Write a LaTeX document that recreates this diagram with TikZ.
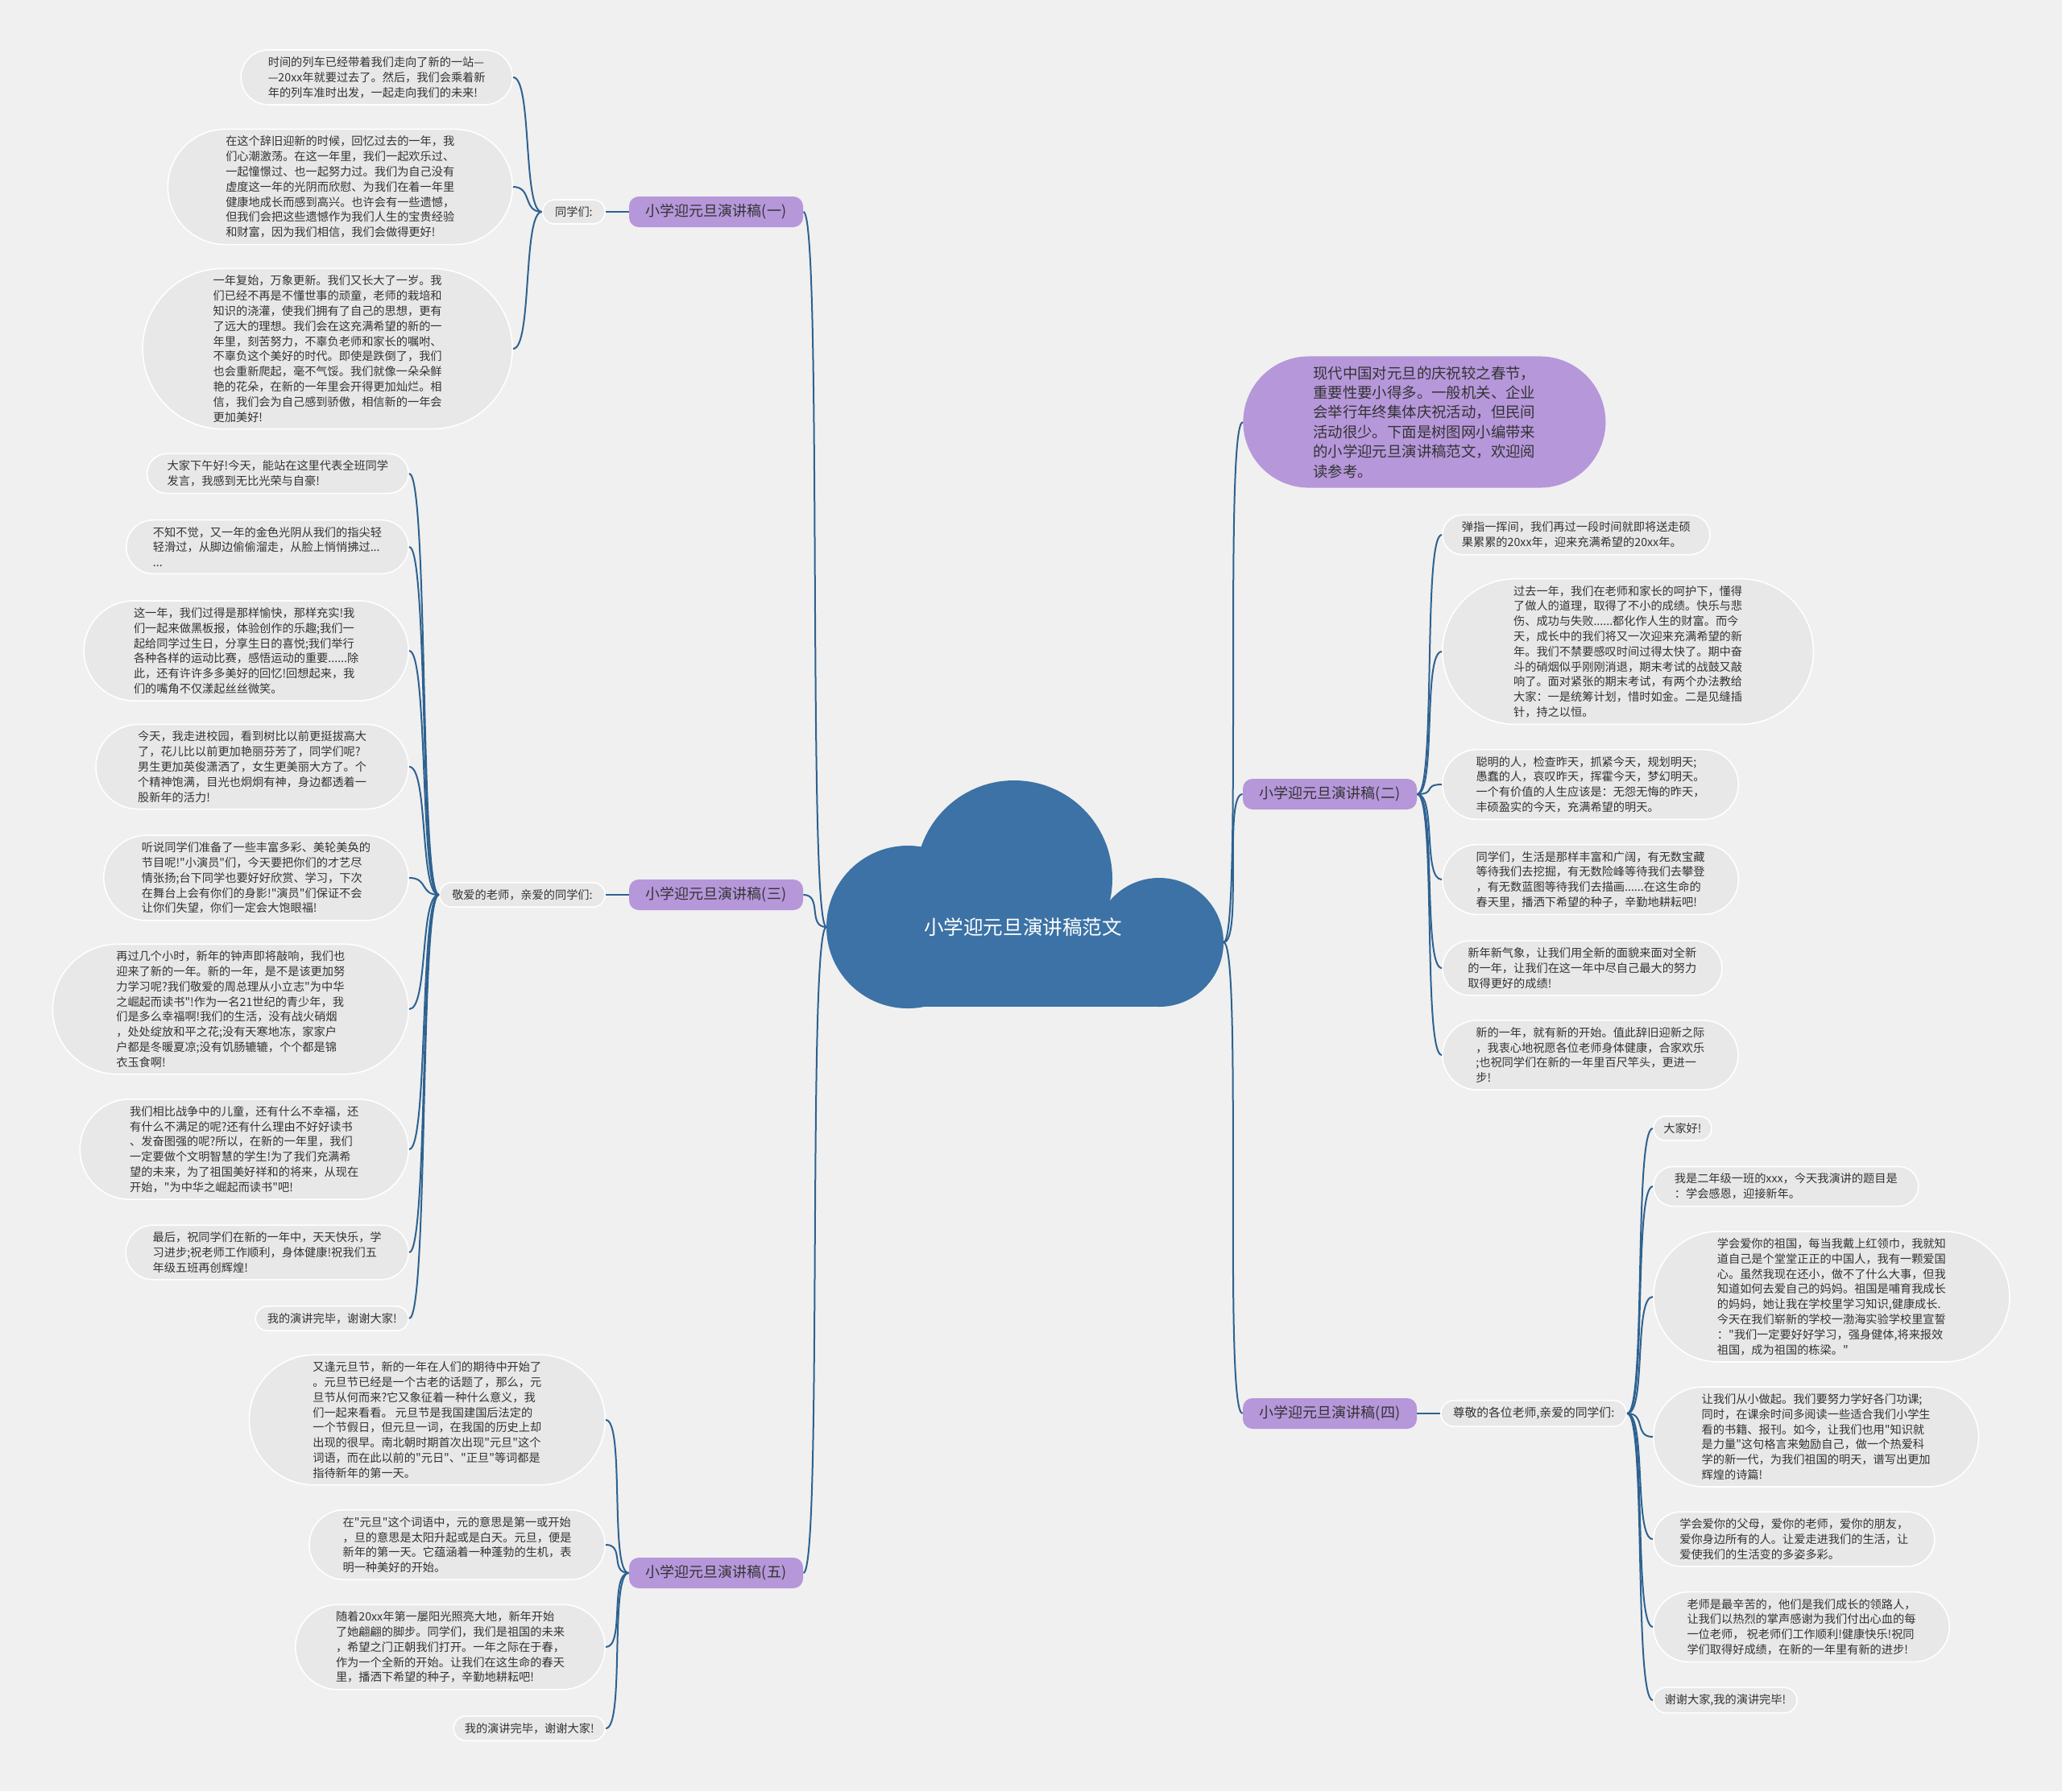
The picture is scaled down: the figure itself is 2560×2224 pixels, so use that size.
\documentclass[tikz,border=0pt]{standalone}
\usepackage{fontspec}
\setmainfont{Noto Sans CJK SC}[Ligatures=TeXOff]
\usetikzlibrary{shapes.misc}

\definecolor{bgcol}{HTML}{F0F0F0}
\definecolor{leafgray}{HTML}{E8E8E8}
\definecolor{txtgray}{HTML}{333333}
\definecolor{topicpurple}{HTML}{B697DA}
\definecolor{cloudblue}{HTML}{3C72A5}
\definecolor{linkblue}{HTML}{2E6290}

\tikzset{
  leafbox/.style={rounded rectangle, fill=leafgray, draw=white, line width=0.8pt,
    text=txtgray, font=\fontsize{7.1}{9.4}\selectfont, align=left,
    inner xsep=#1, inner ysep=4.2pt},
  leafbox/.default=6.5pt,
  mainbox/.style={rectangle, rounded corners=6pt, fill=topicpurple, text=txtgray,
    font=\fontsize{9}{11}\selectfont, minimum width=108pt, minimum height=19pt, inner sep=2pt},
  introbox/.style={rounded rectangle, fill=topicpurple, text=txtgray,
    font=\fontsize{9.2}{12.2}\selectfont, align=left, inner xsep=24pt, inner ysep=6pt},
  conn/.style={draw=linkblue, line width=1pt}
}

\begin{document}
\begin{tikzpicture}[x=0.5pt,y=-0.5pt]
\useasboundingbox (0,0) rectangle (2560,2224);
\fill[bgcol] (0,0) rectangle (2560,2224);

% cloud
\fill[cloudblue] (1259,1091) circle[radius=61pt];
\fill[cloudblue] (1127,1151) circle[radius=50.5pt];
\fill[cloudblue] (1439,1170) circle[radius=40pt];
\fill[cloudblue] (1127,1151) rectangle (1439,1250);
\node[font=\fontsize{12.3}{14}\selectfont, text=white] (root) at (1270,1151) {小学迎元旦演讲稿范文};
\coordinate (rootL) at (1026,1151);
\coordinate (rootR) at (1519,1170);

% main topics
\node[mainbox] (t1) at (889,263) {小学迎元旦演讲稿(一)};
\node[mainbox] (t3) at (889,1111) {小学迎元旦演讲稿(三)};
\node[mainbox] (t5) at (889,1953) {小学迎元旦演讲稿(五)};
\node[mainbox] (t2) at (1651,986) {小学迎元旦演讲稿(二)};
\node[mainbox] (t4) at (1651,1755) {小学迎元旦演讲稿(四)};
\node[introbox, anchor=west] (intro) at (1543,524) {现代中国对元旦的庆祝较之春节，\\
重要性要小得多。一般机关、企业\\
会举行年终集体庆祝活动，但民间\\
活动很少。下面是树图网小编带来\\
的小学迎元旦演讲稿范文，欢迎阅\\
读参考。};

\node[leafbox=7pt, anchor=east] (lab1) at (752,263) {同学们:};
\node[leafbox=7pt, anchor=east] (lab3) at (752,1111) {敬爱的老师，亲爱的同学们:};
\node[leafbox=6.5pt, anchor=west, font=\fontsize{7.4}{9.4}\selectfont] (lab4) at (1788,1755) {尊敬的各位老师,亲爱的同学们:};

% (一)
\node[leafbox=11pt, anchor=east] (a1) at (637,96) {时间的列车已经带着我们走向了新的一站—\\
—20xx年就要过去了。然后，我们会乘着新\\
年的列车准时出发，一起走向我们的未来!};
\node[leafbox=17pt, anchor=east] (a2) at (637,232) {在这个辞旧迎新的时候，回忆过去的一年，我\\
们心潮激荡。在这一年里，我们一起欢乐过、\\
一起憧憬过、也一起努力过。我们为自己没有\\
虚度这一年的光阴而欣慰、为我们在着一年里\\
健康地成长而感到高兴。也许会有一些遗憾，\\
但我们会把这些遗憾作为我们人生的宝贵经验\\
和财富，因为我们相信，我们会做得更好!};
\node[leafbox=14pt, anchor=east] (a3) at (637,433) {一年复始，万象更新。我们又长大了一岁。我\\
们已经不再是不懂世事的顽童，老师的栽培和\\
知识的浇灌，使我们拥有了自己的思想，更有\\
了远大的理想。我们会在这充满希望的新的一\\
年里，刻苦努力，不辜负老师和家长的嘱咐、\\
不辜负这个美好的时代。即使是跌倒了，我们\\
也会重新爬起，毫不气馁。我们就像一朵朵鲜\\
艳的花朵，在新的一年里会开得更加灿烂。相\\
信，我们会为自己感到骄傲，相信新的一年会\\
更加美好!};

% (三)
\node[leafbox=9.5pt, anchor=east] (c1) at (508,588) {大家下午好!今天，能站在这里代表全班同学\\
发言，我感到无比光荣与自豪!};
\node[leafbox=11pt, anchor=east] (c2) at (508,679) {不知不觉，又一年的金色光阴从我们的指尖轻\\
轻滑过，从脚边偷偷溜走，从脸上悄悄拂过...\\
...};
\node[leafbox=15.5pt, anchor=east] (c3) at (508,808) {这一年，我们过得是那样愉快，那样充实!我\\
们一起来做黑板报，体验创作的乐趣;我们一\\
起给同学过生日，分享生日的喜悦;我们举行\\
各种各样的运动比赛，感悟运动的重要......除\\
此，还有许许多多美好的回忆!回想起来，我\\
们的嘴角不仅漾起丝丝微笑。};
\node[leafbox=14pt, anchor=east] (c4) at (508,952) {今天，我走进校园，看到树比以前更挺拔高大\\
了，花儿比以前更加艳丽芬芳了，同学们呢?\\
男生更加英俊潇洒了，女生更美丽大方了。个\\
个精神饱满，目光也炯炯有神，身边都透着一\\
股新年的活力!};
\node[leafbox=11.5pt, anchor=east] (c5) at (508,1090) {听说同学们准备了一些丰富多彩、美轮美奂的\\
节目呢!"小演员"们，今天要把你们的才艺尽\\
情张扬;台下同学也要好好欣赏、学习，下次\\
在舞台上会有你们的身影!"演员"们保证不会\\
让你们失望，你们一定会大饱眼福!};
\node[leafbox=17pt, anchor=east] (c6) at (508,1253) {再过几个小时，新年的钟声即将敲响，我们也\\
迎来了新的一年。新的一年，是不是该更加努\\
力学习呢?我们敬爱的周总理从小立志"为中华\\
之崛起而读书"!作为一名21世纪的青少年，我\\
们是多么幸福啊!我们的生活，没有战火硝烟\\
，处处绽放和平之花;没有天寒地冻，家家户\\
户都是冬暖夏凉;没有饥肠辘辘，个个都是锦\\
衣玉食啊!};
\node[leafbox=15.5pt, anchor=east] (c7) at (508,1427) {我们相比战争中的儿童，还有什么不幸福，还\\
有什么不满足的呢?还有什么理由不好好读书\\
、发奋图强的呢?所以，在新的一年里，我们\\
一定要做个文明智慧的学生!为了我们充满希\\
望的未来，为了祖国美好祥和的将来，从现在\\
开始，"为中华之崛起而读书"吧!};
\node[leafbox=11pt, anchor=east] (c8) at (508,1555) {最后，祝同学们在新的一年中，天天快乐，学\\
习进步;祝老师工作顺利，身体健康!祝我们五\\
年级五班再创辉煌!};
\node[leafbox, anchor=east] (c9) at (508,1637) {我的演讲完毕，谢谢大家!};

% (五)
\node[leafbox=17pt, anchor=east] (e1) at (752,1763) {又逢元旦节，新的一年在人们的期待中开始了\\
。元旦节已经是一个古老的话题了，那么，元\\
旦节从何而来?它又象征着一种什么意义，我\\
们一起来看看。 元旦节是我国建国后法定的\\
一个节假日，但元旦一词，在我国的历史上却\\
出现的很早。南北朝时期首次出现"元旦"这个\\
词语，而在此以前的"元日"、"正旦"等词都是\\
指待新年的第一天。};
\node[leafbox=12pt, anchor=east] (e2) at (752,1918) {在"元旦"这个词语中，元的意思是第一或开始\\
，旦的意思是太阳升起或是白天。元旦，便是\\
新年的第一天。它蕴涵着一种蓬勃的生机，表\\
明一种美好的开始。};
\node[leafbox=13pt, anchor=east] (e3) at (752,2045) {随着20xx年第一屡阳光照亮大地，新年开始\\
了她翩翩的脚步。同学们，我们是祖国的未来\\
，希望之门正朝我们打开。一年之际在于春，\\
作为一个全新的开始。让我们在这生命的春天\\
里，播洒下希望的种子，辛勤地耕耘吧!};
\node[leafbox=6pt, anchor=east] (e4) at (752,2146) {我的演讲完毕，谢谢大家!};

% (二)
\node[leafbox=9pt, anchor=west] (b1) at (1790,664) {弹指一挥间，我们再过一段时间就即将送走硕\\
果累累的20xx年，迎来充满希望的20xx年。};
\node[leafbox=18pt, anchor=west] (b2) at (1790,809) {过去一年，我们在老师和家长的呵护下，懂得\\
了做人的道理，取得了不小的成绩。快乐与悲\\
伤、成功与失败......都化作人生的财富。而今\\
天，成长中的我们将又一次迎来充满希望的新\\
年。我们不禁要感叹时间过得太快了。期中奋\\
斗的硝烟似乎刚刚消退，期末考试的战鼓又敲\\
响了。面对紧张的期末考试，有两个办法教给\\
大家：一是统筹计划，惜时如金。二是见缝插\\
针，持之以恒。};
\node[leafbox=12pt, anchor=west] (b3) at (1790,974) {聪明的人，检查昨天，抓紧今天，规划明天;\\
愚蠢的人，哀叹昨天，挥霍今天，梦幻明天。\\
一个有价值的人生应该是：无怨无悔的昨天，\\
丰硕盈实的今天，充满希望的明天。};
\node[leafbox=12pt, anchor=west] (b4) at (1790,1092) {同学们，生活是那样丰富和广阔，有无数宝藏\\
等待我们去挖掘，有无数险峰等待我们去攀登\\
，有无数蓝图等待我们去描画......在这生命的\\
春天里，播洒下希望的种子，辛勤地耕耘吧!};
\node[leafbox=10pt, anchor=west] (b5) at (1790,1202) {新年新气象，让我们用全新的面貌来面对全新\\
的一年，让我们在这一年中尽自己最大的努力\\
取得更好的成绩!};
\node[leafbox=12pt, anchor=west] (b6) at (1790,1310) {新的一年，就有新的开始。值此辞旧迎新之际\\
，我衷心地祝愿各位老师身体健康，合家欢乐\\
;也祝同学们在新的一年里百尺竿头，更进一\\
步!};

% (四)
\node[leafbox=5.5pt, anchor=west] (d1) at (2052,1401) {大家好!};
\node[leafbox=10pt, anchor=west] (d2) at (2052,1473) {我是二年级一班的xxx，今天我演讲的题目是\\
：学会感恩，迎接新年。};
\node[leafbox=17pt, anchor=west] (d3) at (2052,1610) {学会爱你的祖国，每当我戴上红领巾，我就知\\
道自己是个堂堂正正的中国人，我有一颗爱国\\
心。虽然我现在还小，做不了什么大事，但我\\
知道如何去爱自己的妈妈。祖国是哺育我成长\\
的妈妈，她让我在学校里学习知识,健康成长.\\
今天在我们崭新的学校一渤海实验学校里宣誓\\
："我们一定要好好学习，强身健体,将来报效\\
祖国，成为祖国的栋梁。"};
\node[leafbox=14.5pt, anchor=west] (d4) at (2052,1784) {让我们从小做起。我们要努力学好各门功课;\\
同时，在课余时间多阅读一些适合我们小学生\\
看的书籍、报刊。如今，让我们也用"知识就\\
是力量"这句格言来勉励自己，做一个热爱科\\
学的新一代，为我们祖国的明天，谱写出更加\\
辉煌的诗篇!};
\node[leafbox=10.5pt, anchor=west] (d5) at (2052,1911) {学会爱你的父母，爱你的老师，爱你的朋友，\\
爱你身边所有的人。让爱走进我们的生活，让\\
爱使我们的生活变的多姿多彩。};
\node[leafbox=12pt, anchor=west] (d6) at (2052,2020) {老师是最辛苦的，他们是我们成长的领路人，\\
让我们以热烈的掌声感谢为我们付出心血的每\\
一位老师， 祝老师们工作顺利!健康快乐!祝同\\
学们取得好成绩，在新的一年里有新的进步!};
\node[leafbox=6pt, anchor=west] (d7) at (2052,2111) {谢谢大家,我的演讲完毕!};

% connectors
\foreach \t in {t1,t3,t5}
  \draw[conn] (rootL) .. controls +(-24,0) and +(24,0) .. (\t.east);
\foreach \t in {intro,t2,t4}
  \draw[conn] (rootR) .. controls +(24,0) and +(-24,0) .. (\t.west);
\draw[conn] (t1.west) -- (lab1.east);
\draw[conn] (t3.west) -- (lab3.east);
\draw[conn] (t4.east) -- (lab4.west);
\foreach \n in {a1,a2,a3}
  \draw[conn] (lab1.west) .. controls +(-24,0) and +(24,0) .. (\n.east);
\foreach \n in {c1,c2,c3,c4,c5,c6,c7,c8,c9}
  \draw[conn] (lab3.west) .. controls +(-24,0) and +(24,0) .. (\n.east);
\foreach \n in {e1,e2,e3,e4}
  \draw[conn] (t5.west) .. controls +(-24,0) and +(24,0) .. (\n.east);
\foreach \n in {b1,b2,b3,b4,b5,b6}
  \draw[conn] (t2.east) .. controls +(24,0) and +(-24,0) .. (\n.west);
\foreach \n in {d1,d2,d3,d4,d5,d6,d7}
  \draw[conn] (lab4.east) .. controls +(24,0) and +(-24,0) .. (\n.west);
\end{tikzpicture}
\end{document}
